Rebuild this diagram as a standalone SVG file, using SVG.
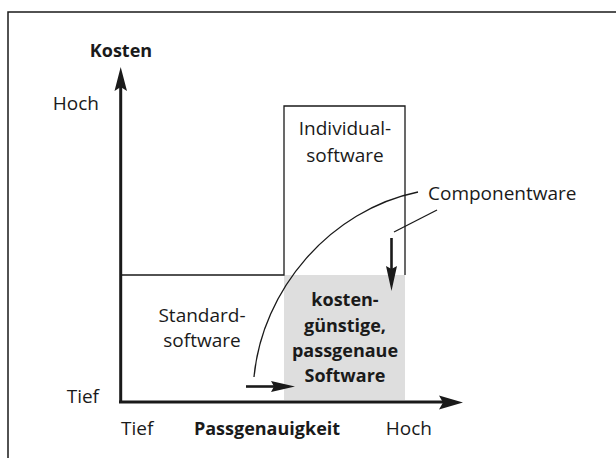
<svg xmlns="http://www.w3.org/2000/svg" width="616" height="458" viewBox="0 0 616 458">
<style>
text{font-family:"Open Sans","Noto Sans",sans-serif;fill:#1a1a1a}
.r{font-size:19px}
.b{font-size:18px;font-weight:bold}
.thin{fill:none;stroke:#1a1a1a;stroke-width:1.3}
.axis{fill:none;stroke:#1a1a1a;stroke-width:3}
.arr{fill:none;stroke:#1a1a1a;stroke-width:2.6}
.head{fill:#1a1a1a;stroke:none}
</style>
<rect x="0" y="0" width="616" height="458" fill="#fff"/>
<rect x="8" y="12" width="620" height="460" fill="none" stroke="#1a1a1a" stroke-width="1.5"/>
<g id="gray-region">
<rect x="284" y="275" width="121" height="125" fill="#dedede"/>
</g>
<g id="standard-box">
<polyline class="thin" points="120,275 284,275 284,106 405,106 405,275"/>
</g>
<g id="connectors">
<line class="axis" x1="120.7" y1="402" x2="120.7" y2="86"/>
<path class="head" d="M120.7,67 L127,91 L120.7,87 L114.5,91 Z"/>
<line class="axis" x1="119" y1="402" x2="443" y2="402"/>
<path class="head" d="M463,402.5 L439,395.5 L443,402.5 L439,409.5 Z"/>
<path class="thin" d="M254,377 C262,290 330,210 418,192"/>
<line class="thin" x1="437" y1="210" x2="394" y2="232"/>
<line class="arr" x1="391.5" y1="238" x2="391.5" y2="270"/>
<path class="head" d="M391.5,291 L386,266 L391.5,269 L397,266 Z"/>
<line class="arr" x1="246" y1="386.5" x2="275" y2="386.5"/>
<path class="head" d="M295,386.5 L271,381 L274,386.5 L271,392 Z"/>
</g>
<g id="y-axis-labels">
<text class="b" x="121" y="57" text-anchor="middle">Kosten</text>
<text class="r" x="99" y="110" text-anchor="end">Hoch</text>
<text class="r" x="99" y="403" text-anchor="end">Tief</text>
</g>
<g id="x-axis-labels">
<text class="r" x="121" y="435">Tief</text>
<text class="b" x="267" y="435" text-anchor="middle">Passgenauigkeit</text>
<text class="r" x="432" y="435" text-anchor="end">Hoch</text>
</g>
<g id="individualsoftware">
<text class="r" x="345" y="135" text-anchor="middle">Individual-</text>
<text class="r" x="345" y="162" text-anchor="middle">software</text>
</g>
<g id="componentware">
<text class="r" x="428" y="200">Componentware</text>
</g>
<g id="standardsoftware">
<text class="r" x="202" y="322" text-anchor="middle">Standard-</text>
<text class="r" x="202" y="347" text-anchor="middle">software</text>
</g>
<g id="passgenaue-software">
<text class="b" x="345" y="306" text-anchor="middle">kosten-</text>
<text class="b" x="345" y="332" text-anchor="middle">günstige,</text>
<text class="b" x="345" y="357" text-anchor="middle">passgenaue</text>
<text class="b" x="345" y="382" text-anchor="middle">Software</text>
</g>
</svg>
